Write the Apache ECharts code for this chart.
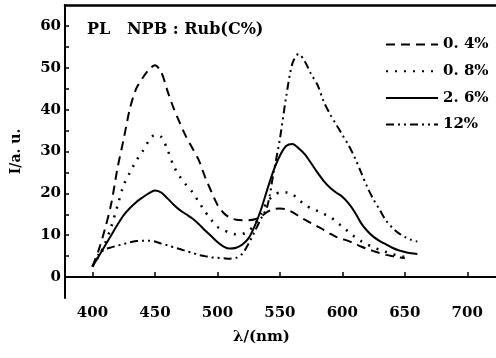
<!DOCTYPE html>
<html><head><meta charset="utf-8">
<script src="https://cdn.jsdelivr.net/npm/echarts@6/dist/echarts.min.js"></script>
<style>html,body{margin:0;padding:0;background:#fff}#c{width:496px;height:358px}</style>
</head><body><div id="c"></div>
<script>
const wavelengths = [400,405,410,415,420,425,430,435,440,445,450,455,460,465,470,475,480,485,490,495,500,505,510,515,520,525,530,535,540,545,550,555,560,565,570,575,580,585,590,595,600,605,610,615,620,625,630,635,640,645,650,655,660];
const seriesNames = ['0. 4%','0. 8%','2. 6%','12%'];
const c04 = [2.5,6.5,11.5,17.5,26,33,40.3,45,47.5,49.5,50.6,49,44.5,40.3,36.8,33.5,30.8,28,24,20.5,17.3,15.3,14.2,13.7,13.6,13.6,13.8,14.5,15.6,16.2,16.4,16.2,15.5,14.6,13.7,12.9,12.1,11.3,10.4,9.6,9.1,8.6,8,7.3,6.7,6.2,5.7,5.3,5,4.7,4.5,null,null];
const c08 = [2.5,5,8,12,17,22,25,27.8,30,32.5,34,33.5,30.5,26.5,24,22,20.3,18,15.7,13.7,12,11.2,10.6,10.2,10.3,11,12.6,15.2,18,19.5,20.2,20.2,19.8,18.5,17.3,16.4,15.8,15.1,14.4,13.3,12,10.8,9.6,8.6,7.8,7.1,6.5,6,5.5,5.1,4.8,4.5,null];
const c26 = [2.5,5,7.5,10,12.5,14.8,16.5,17.9,19,20,20.7,20.2,18.8,17.3,16,15,14,12.7,11.2,9.8,8.4,7.3,6.8,7,7.8,9.3,12.3,16.2,21,25.5,29,31.3,31.8,30.8,29.3,27.2,25,23,21.4,20.2,19.2,17.6,15.5,12.9,11,9.6,8.6,7.8,7,6.4,6,5.7,5.5];
const c12 = [2.5,5.5,6.6,7.1,7.5,7.9,8.3,8.6,8.7,8.7,8.5,8,7.6,7.1,6.7,6.2,5.8,5.3,5,4.7,4.6,4.5,4.4,4.6,5.6,8,11,14,17,25,33,43,51,53.3,51.5,48.5,46,42,39,36.5,34,31.5,28.5,25,21.5,18.5,16,13.5,11.8,10.5,9.6,8.9,8.5];
const xTicks = [400,450,500,550,600,650,700];
const yTicks = [0,10,20,30,40,50,60];
const yMinorTicks = [0,5,10,15,20,25,30,35,40,45,50,55,60];

const font = '"DejaVu Serif", "Liberation Serif", serif';
const pair = arr => wavelengths.map((w,i)=>[w,arr[i]]);
const styles = [
  {type:[9,6], width:2},
  {type:[2,7], width:2.5},
  {type:'solid', width:2},
  {type:[8,4,2,4,2,4], width:2}
];
const dataSets = [c04,c08,c26,c12];
const chart = echarts.init(document.getElementById('c'), null, {renderer:'canvas'});
chart.setOption({
  animation:false,
  backgroundColor:'#fff',
  grid:{left:65, top:5, right:0, bottom:60, containLabel:false},
  title:{text:'PL   NPB : Rub(C%)', left:82, top:17, textStyle:{fontFamily:font, fontWeight:'bold', fontSize:16, color:'#000'}},
  legend:{orient:'vertical', left:380, top:32, itemWidth:52, itemHeight:14, itemGap:11.7,
    data:seriesNames, itemStyle:{opacity:0, borderWidth:0},
    textStyle:{fontFamily:font, fontWeight:'bold', fontSize:15, color:'#000'}},
  xAxis:[{type:'value', min:378, max:723,
    axisLine:{lineStyle:{color:'#000', width:2}},
    axisTick:{inside:true, length:5, customValues:xTicks, lineStyle:{color:'#000', width:1.5}},
    axisLabel:{customValues:xTicks, margin:8, fontFamily:font, fontWeight:'bold', fontSize:15, color:'#000'},
    splitLine:{show:false}},
    {type:'value', position:'top', min:378, max:723, axisLine:{show:true, lineStyle:{color:'#000', width:2.5}}, axisTick:{show:false}, axisLabel:{show:false}, splitLine:{show:false}}],
  yAxis:{type:'value', min:-5, max:65,
    name:'I/a. u.', nameLocation:'middle', nameGap:42, nameRotate:90,
    nameTextStyle:{fontFamily:font, fontWeight:'bold', fontSize:14, color:'#000'},
    axisLine:{show:true, lineStyle:{color:'#000', width:2}},
    axisTick:{show:true, inside:true, length:4, customValues:yMinorTicks, lineStyle:{color:'#000', width:1.5}},
    axisLabel:{customValues:yTicks, margin:4, fontFamily:font, fontWeight:'bold', fontSize:15, color:'#000'},
    splitLine:{show:false}},
  graphic:[{type:'text', left:233, top:330, style:{text:'λ/(nm)', fontFamily:font, fontWeight:'bold', fontSize:15, fill:'#000'}}],
  series: dataSets.map((d,i)=>({
    name:seriesNames[i], type:'line', data:pair(d), smooth:0.3, showSymbol:false, symbol:'none',
    connectNulls:false,
    lineStyle:{color:'#000', type:styles[i].type, width:styles[i].width},
    itemStyle:{color:'#000'}
  }))
});
</script></body></html>
